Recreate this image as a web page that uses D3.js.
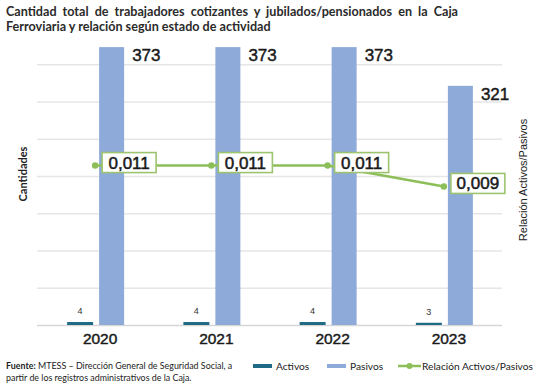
<!DOCTYPE html>
<html><head><meta charset="utf-8">
<script src="https://cdn.jsdelivr.net/npm/d3@7"></script>
<style>
html,body{margin:0;padding:0;background:#fff;}
svg{display:block;}
</style></head>
<body>
<svg id="c" width="540" height="386"></svg>
<script>
const years = ["2020","2021","2022","2023"];
const activos = [4,4,4,3];
const pasivos = [373,373,373,321];
const relacion = [0.0107,0.0107,0.0107,0.0093];
const relacionLabels = ["0,011","0,011","0,011","0,009"];
const gridTicks = [0,50,100,150,200,250,300,350];
const titleLines = ["Cantidad total de trabajadores cotizantes y jubilados/pensionados en la Caja","Ferroviaria y relación según estado de actividad"];

(function(){
const svg = d3.select("#c");
const pL = 37, pR = 502, pB = 325, pT = 27;

const x = d3.scaleBand().domain(years).range([pL,pR]);
const y = d3.scaleLinear().domain([0,400]).range([pB,pT]);
const y2 = d3.scaleLinear().domain([0,0.02]).range([pB,pT]);

const cActivos = "#1f6b86", cPasivos = "#8eaad9", cLine = "#8dbf59", cBox = "#9cc46e";

// gridlines
svg.append("g").selectAll("line").data(gridTicks).join("line")
  .attr("x1",pL).attr("x2",pR)
  .attr("y1",d=>y(d)+0.5).attr("y2",d=>y(d)+0.5)
  .attr("stroke",d=>d===0?"#d6d6d6":"#e6e6e6").attr("stroke-width",1.3);

// title
const tg = svg.append("g");
titleLines.forEach((t,i)=>{
  const el = tg.append("text").attr("x",6).attr("y",16+i*15)
    .attr("font-family","Lato").attr("font-weight","bold").attr("font-size",12.6)
    .attr("fill","#2b2b2b").text(t);
  if(i===0){
    const w = el.node().getComputedTextLength();
    const spaces = t.split(" ").length-1;
    el.attr("word-spacing",(452-w)/spaces);
  }
});

const bw = 26, gap = 8;
const cx = d => x(d)+x.bandwidth()/2;

// Activos bars
svg.append("g").selectAll("rect").data(years).join("rect")
  .attr("x",(d)=>cx(d)-gap/2-bw+2)
  .attr("y",(d,i)=>y(activos[i]))
  .attr("width",bw).attr("height",(d,i)=>pB-y(activos[i]))
  .attr("fill",cActivos);
// Pasivos bars
svg.append("g").selectAll("rect").data(years).join("rect")
  .attr("x",(d)=>cx(d)+gap/2)
  .attr("y",(d,i)=>y(pasivos[i]))
  .attr("width",bw-1).attr("height",(d,i)=>pB-y(pasivos[i]))
  .attr("fill",cPasivos);

// activos labels
svg.append("g").selectAll("text").data(years).join("text")
  .attr("x",d=>cx(d)-gap/2-bw/2+2).attr("y",(d,i)=>y(activos[i])-8)
  .attr("text-anchor","middle").attr("font-family","Liberation Sans, Arial").attr("font-size",9)
  .attr("fill","#333").text((d,i)=>activos[i]);
// pasivos labels
svg.append("g").selectAll("text").data(years).join("text")
  .attr("x",d=>cx(d)+gap/2+bw-1+8).attr("y",(d,i)=>y(pasivos[i])+14)
  .attr("font-family","Liberation Sans, Arial").attr("font-size",17)
  .attr("fill","#1a1a1a").attr("stroke","#1a1a1a").attr("stroke-width",0.45)
  .text((d,i)=>pasivos[i]);

// line
const line = d3.line().x((d,i)=>cx(years[i])).y(d=>y2(d));
svg.append("path").datum(relacion).attr("d",line)
  .attr("fill","none").attr("stroke",cLine).attr("stroke-width",2.5);
svg.append("g").selectAll("circle").data(relacion).join("circle")
  .attr("cx",(d,i)=>cx(years[i])).attr("cy",d=>y2(d)).attr("r",3.2).attr("fill",cLine);

// ratio label boxes
const lg = svg.append("g").selectAll("g").data(relacion).join("g")
  .attr("transform",(d,i)=>`translate(${cx(years[i])+7},${y2(d)-3})`);
lg.append("rect").attr("x",0).attr("y",-10).attr("width",54).attr("height",20)
  .attr("fill","#fff").attr("stroke",cBox).attr("stroke-width",1.6);
lg.append("text").attr("x",27).attr("y",6).attr("text-anchor","middle")
  .attr("font-family","Liberation Sans, Arial").attr("font-size",17)
  .attr("fill","#1a1a1a").attr("stroke","#1a1a1a").attr("stroke-width",0.5)
  .text((d,i)=>relacionLabels[i]);

// x axis labels
svg.append("g").selectAll("text").data(years).join("text")
  .attr("x",d=>cx(d)+5).attr("y",344)
  .attr("text-anchor","middle").attr("font-family","Liberation Sans, Arial").attr("font-size",15.5)
  .attr("fill","#1a1a1a").attr("stroke","#1a1a1a").attr("stroke-width",0.45)
  .text(d=>d);

// axis titles
svg.append("text").attr("transform","translate(27,174) rotate(-90)")
  .attr("text-anchor","middle").attr("font-family","Lato").attr("font-weight","bold").attr("font-size",11)
  .attr("fill","#222").text("Cantidades");
svg.append("text").attr("transform","translate(527,180) rotate(-90)")
  .attr("text-anchor","middle").attr("font-family","Liberation Sans, Arial").attr("font-size",11)
  .attr("fill","#222").text("Relación Activos/Pasivos");

// source
const src = svg.append("text").attr("x",6).attr("y",369).attr("font-family","Lato").attr("font-size",8.9).attr("fill","#222");
src.append("tspan").attr("font-weight","bold").text("Fuente:");
src.append("tspan").text(" MTESS – Dirección General de Seguridad Social, a");
svg.append("text").attr("x",6).attr("y",381).attr("font-family","Lato").attr("font-size",8.9).attr("fill","#222")
  .text("partir de los registros administrativos de la Caja.");

// legend
const leg = svg.append("g").attr("font-family","Lato").attr("font-size",10.2).attr("fill","#222");
leg.append("rect").attr("x",253).attr("y",364).attr("width",19).attr("height",4).attr("fill",cActivos);
leg.append("text").attr("x",276).attr("y",370).text("Activos");
leg.append("rect").attr("x",327).attr("y",364).attr("width",19).attr("height",4).attr("fill",cPasivos);
leg.append("text").attr("x",350).attr("y",370).text("Pasivos");
leg.append("line").attr("x1",398).attr("x2",421).attr("y1",366).attr("y2",366).attr("stroke",cLine).attr("stroke-width",2.5);
leg.append("circle").attr("cx",409.5).attr("cy",366).attr("r",3).attr("fill",cLine);
leg.append("text").attr("x",422).attr("y",370).text("Relación Activos/Pasivos");
})();
</script>
</body></html>
